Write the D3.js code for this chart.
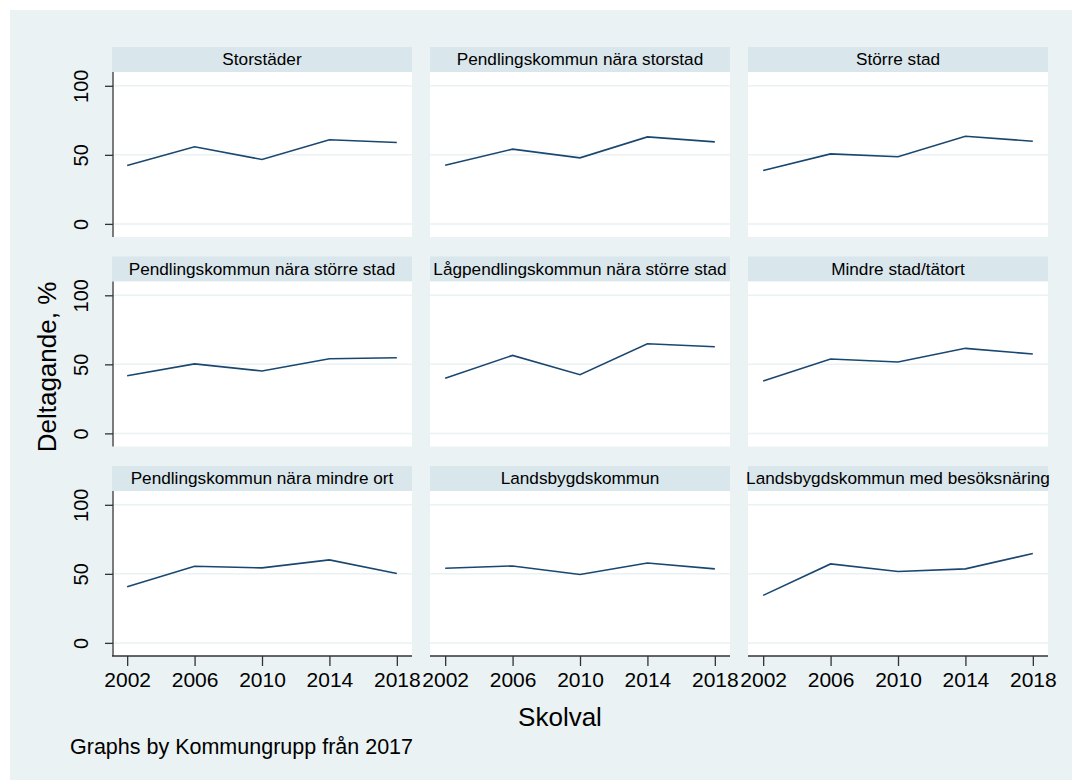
<!DOCTYPE html>
<html>
<head>
<meta charset="utf-8">
<style>
body { margin:0; background:#fff; }
text { font-family: "Liberation Sans", Arial, sans-serif; fill:#000; }
</style>
</head>
<body>
<svg width="1072" height="780"></svg>
<script src="https://d3js.org/d3.v7.min.js"></script>
<script>
var years = [2002, 2006, 2010, 2014, 2018]
var yTicks = [0, 50, 100]
var panelNames = ["Storstäder", "Pendlingskommun nära storstad", "Större stad",
  "Pendlingskommun nära större stad", "Lågpendlingskommun nära större stad", "Mindre stad/tätort",
  "Pendlingskommun nära mindre ort", "Landsbygdskommun", "Landsbygdskommun med besöksnäring"]

var storstader      = [42.3, 55.8, 46.6, 60.9, 58.9]
var pendStorstad    = [42.5, 54.1, 47.8, 63.0, 59.4]
var storreStad      = [38.6, 50.7, 48.6, 63.5, 59.9]
var pendStorreStad  = [41.8, 50.3, 45.2, 54.1, 54.8]
var lagpendStorre   = [39.9, 56.5, 42.5, 64.9, 62.7]
var mindreStad      = [38.0, 53.9, 51.7, 61.6, 57.5]
var pendMindreOrt   = [40.6, 55.5, 54.3, 60.1, 50.2]
var landsbygd       = [54.1, 55.7, 49.5, 57.9, 53.6]
var landsbygdBesok  = [34.4, 57.2, 51.7, 53.6, 64.7]

var series = [storstader, pendStorstad, storreStad, pendStorreStad, lagpendStorre,
  mindreStad, pendMindreOrt, landsbygd, landsbygdBesok]

var svg = d3.select('svg')
svg.append('rect').attr('x', 10).attr('y', 10).attr('width', 1062).attr('height', 770).attr('fill', '#eaf2f3')

var pw = 300, ph = 165, strip = 25
var x = d3.scaleLinear().domain([2001.1, 2018.9]).range([0, pw])
var y = d3.scaleLinear().domain([-9.5, 110]).range([ph, 0])
var line = d3.line().x(function(d, i) { return x(years[i]) }).y(function(d) { return y(d) })

series.forEach(function(vals, k) {
  var col = k % 3, row = Math.floor(k / 3)
  var g = svg.append('g').attr('transform', 'translate(' + (112 + col * 318) + ',' + (47 + row * 209.5) + ')')
  g.append('rect').attr('width', pw).attr('height', strip).attr('fill', '#d9e6eb')
  g.append('text').attr('x', pw / 2).attr('y', 18).attr('text-anchor', 'middle')
    .style('font-size', '17.2px').text(panelNames[k])

  var p = g.append('g').attr('transform', 'translate(0,' + strip + ')')
  p.append('rect').attr('width', pw).attr('height', ph).attr('fill', '#fff')
  p.selectAll('.grid').data(yTicks).enter().append('line')
    .attr('x1', 0).attr('x2', pw)
    .attr('y1', function(d) { return y(d) }).attr('y2', function(d) { return y(d) })
    .attr('stroke', '#eaf2f3').attr('stroke-width', 1.5)
  p.append('path').attr('d', line(vals)).attr('fill', 'none')
    .attr('stroke', '#1a476f').attr('stroke-width', 1.6)

  if (col == 0) {
    var ya = p.append('g').attr('transform', 'translate(1,0)')
      .call(d3.axisLeft(y).tickValues(yTicks).tickSize(8).tickPadding(4).tickSizeOuter(0))
    ya.select('.domain').attr('stroke', '#333').attr('stroke-width', 1.3).attr('d', 'M0,0V' + ph)
    ya.selectAll('.tick line').attr('stroke', '#333').attr('stroke-width', 1.3)
    ya.selectAll('.tick text').attr('x', null).attr('dy', null)
      .attr('transform', 'translate(-25,0) rotate(-90)').attr('text-anchor', 'middle')
      .style('font-size', '20px').style('font-family', '"Liberation Sans", Arial, sans-serif')
  }
  if (row == 2) {
    var xa = p.append('g').attr('transform', 'translate(0,' + ph + ')')
      .call(d3.axisBottom(x).tickValues(years).tickFormat(d3.format('d')).tickSize(10).tickPadding(6).tickSizeOuter(0))
    xa.select('.domain').attr('stroke', '#333').attr('stroke-width', 1.3).attr('d', 'M0,0H' + pw)
    xa.selectAll('.tick line').attr('stroke', '#333').attr('stroke-width', 1.3)
    xa.selectAll('.tick text').style('font-size', '21px').style('font-family', '"Liberation Sans", Arial, sans-serif')
  }
})

svg.append('text').attr('transform', 'translate(56,367) rotate(-90)').attr('text-anchor', 'middle')
  .style('font-size', '26px').text('Deltagande, %')
svg.append('text').attr('x', 560).attr('y', 726).attr('text-anchor', 'middle')
  .style('font-size', '26px').text('Skolval')
svg.append('text').attr('x', 70).attr('y', 754)
  .style('font-size', '21.5px').text('Graphs by Kommungrupp från 2017')
</script>
</body>
</html>
